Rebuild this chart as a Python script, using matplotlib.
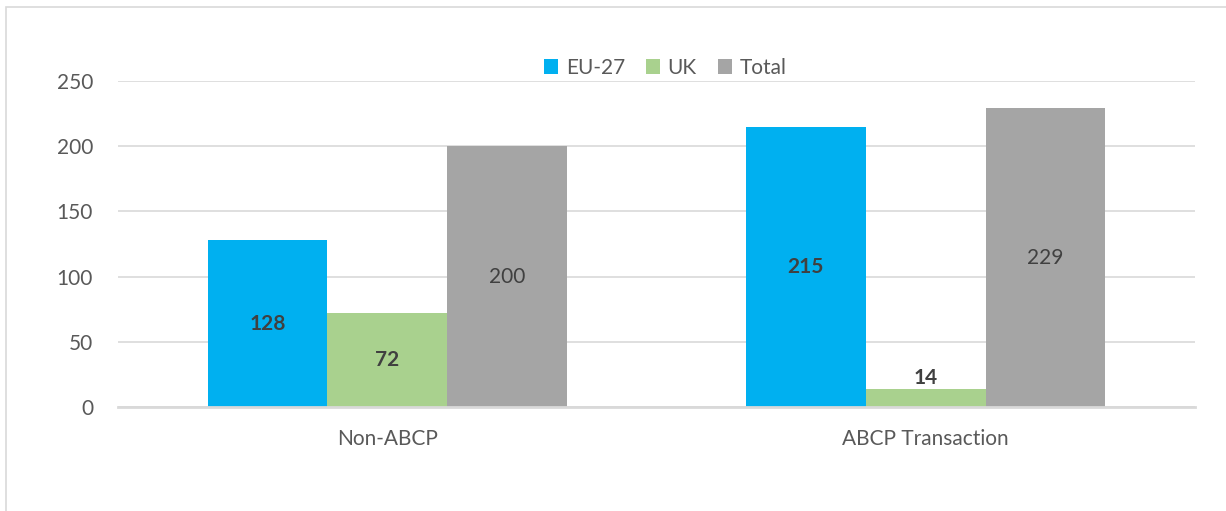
import numpy as np
import matplotlib.pyplot as plt
from matplotlib.patches import Rectangle

# ---------------------------------------------------------------------------
# Data
# ---------------------------------------------------------------------------
categories = ['Non-ABCP', 'ABCP Transaction']
series_names = ['EU-27', 'UK', 'Total']
eu27 = [128, 215]
uk = [72, 14]
total = [200, 229]
y_ticks = [0, 50, 100, 150, 200, 250]

colors = ['#00B0F0', '#A9D18E', '#A5A5A5']
label_bold = [True, True, False]

plt.rcParams['font.family'] = ['Lato', 'DejaVu Sans']

fig = plt.figure(figsize=(12.26, 5.11), dpi=100)
ax = fig.add_axes([118 / 1226, 1 - 407 / 511, (1195 - 118) / 1226, (407 - 81) / 511])

# outer chart border (only left/top visible in the crop)
fig.patches.append(Rectangle((6 / 1226, -0.1), 1.2, 1 - 7 / 511 + 0.1,
                             transform=fig.transFigure, fill=False,
                             edgecolor='#D9D9D9', linewidth=1.2, zorder=0))

x = np.arange(len(categories))
width = 0.2225
for i, (name, vals) in enumerate(zip(series_names, [eu27, uk, total])):
    pos = x + (i - 1) * width
    bars = ax.bar(pos, vals, width, color=colors[i], label=name, zorder=2)
    for b, v in zip(bars, vals):
        weight = 'bold' if label_bold[i] else 'normal'
        if v < 25:
            ax.text(b.get_x() + b.get_width() / 2, v + 0.5, str(v), ha='center',
                    va='bottom', fontsize=15, color='#404040', fontweight=weight)
        else:
            ax.text(b.get_x() + b.get_width() / 2, v / 2, str(v), ha='center',
                    va='center', fontsize=15, color='#404040', fontweight=weight)

ax.set_xlim(-0.5, 1.5)
ax.set_ylim(0, 250)
ax.set_yticks(y_ticks)
ax.set_xticks(x)
ax.set_xticklabels(categories)
ax.tick_params(axis='both', length=0, labelsize=15, colors='#595959')
ax.tick_params(axis='y', pad=18)
ax.tick_params(axis='x', pad=16)
ax.yaxis.grid(True, color='#D9D9D9', linewidth=1.2, zorder=0)
ax.set_axisbelow(True)
for s in ['top', 'right', 'left']:
    ax.spines[s].set_visible(False)
ax.spines['bottom'].set_color('#D9D9D9')
ax.spines['bottom'].set_linewidth(2)

ax.legend(loc='center', bbox_to_anchor=(0.508, 1.04), ncol=3, frameon=False,
          fontsize=15, labelcolor='#595959', handlelength=0.7, handleheight=0.7,
          handletextpad=0.35, columnspacing=1.0, borderaxespad=0)

plt.savefig('out.png', dpi=100)
plt.close()
